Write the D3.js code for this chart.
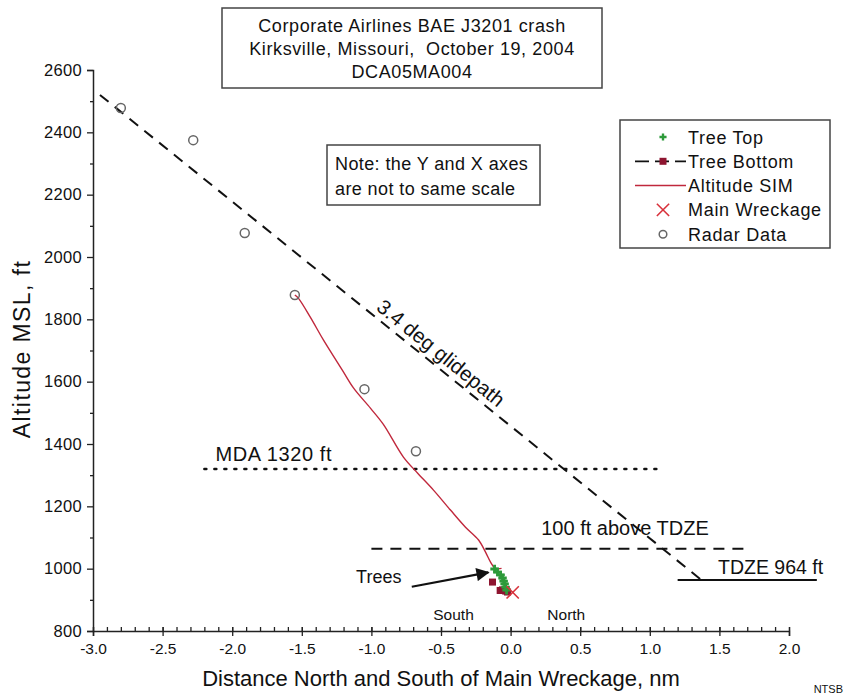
<!DOCTYPE html>
<html>
<head>
<meta charset="utf-8">
<script src="https://cdn.jsdelivr.net/npm/d3@7"></script>
<style>
  body { margin: 0; background: #fff; }
  svg { font-family: "Liberation Sans", Arial, sans-serif; fill: #111; }
  svg text { white-space: pre; }
</style>
</head>
<body>
<div id="chart"></div>
<script>
// ---- data ----
const xTicks = [-3.0, -2.5, -2.0, -1.5, -1.0, -0.5, 0.0, 0.5, 1.0, 1.5, 2.0];
const yTicks = [800, 1000, 1200, 1400, 1600, 1800, 2000, 2200, 2400, 2600];

const radarX = [-2.80, -2.28, -1.91, -1.55, -1.05, -0.68];
const radarY = [2478, 2375, 2077, 1878, 1576, 1377];

const simX = [-1.55, -1.525, -1.439, -1.345, -1.209, -1.129, -1.007, -0.914, -0.770, -0.669, -0.554, -0.432, -0.324, -0.230, -0.180, -0.144, -0.115, -0.090, -0.065];
const simY = [1878, 1868, 1807, 1734, 1637, 1580, 1515, 1463, 1358, 1307, 1252, 1188, 1133, 1092, 1053, 1021, 1003, 1000, 1001];

const treeTopX = [-0.115, -0.094, -0.072, -0.058, -0.050, -0.043, -0.036, -0.029];
const treeTopY = [999, 989, 980, 970, 960, 951, 941, 931];

const treeBotX = [-0.13, -0.075, -0.058, -0.035, -0.022];
const treeBotY = [957, 930, 932, 928, 925];

const wreckX = [0.015];
const wreckY = [924];

const glideX = [-2.95, 1.37];
const glideY = [2520, 964];

const mdaX = [-2.2, 1.05];
const mdaAlt = 1320;
const tdze100X = [-1.0, 1.7];
const tdze100Alt = 1064;
const tdzeX = [1.2, 2.2];
const tdzeAlt = 964;

const legendItems = ["Tree Top", "Tree Bottom", "Altitude SIM", "Main Wreckage", "Radar Data"];
const titleLines = ["Corporate Airlines BAE J3201 crash", "Kirksville, Missouri,  October 19, 2004", "DCA05MA004"];
const noteLines = ["Note: the Y and X axes", "are not to same scale"];

// ---- layout ----
const W = 844, H = 696;
const margin = {top: 70, right: 55, bottom: 65, left: 93};
const width = W - margin.left - margin.right;
const height = H - margin.top - margin.bottom;

const svg = d3.select("#chart").append("svg")
    .attr("width", W)
    .attr("height", H);

const g = svg.append("g")
    .attr("transform", "translate(" + margin.left + "," + margin.top + ")");

const x = d3.scaleLinear().domain([-3.0, 2.0]).range([0, width]);
const y = d3.scaleLinear().domain([800, 2600]).range([height, 0]);

const red = "#c0283c", dark = "#8e1530", green = "#2d9a3a";

// axes
const fmtX = d => d3.format(".1f")(d).replace("−", "-");
const xAxis = d3.axisBottom(x).tickValues(xTicks).tickSize(5).tickFormat(fmtX);
const yAxis = d3.axisLeft(y).tickValues(yTicks).tickSize(6).tickFormat(d3.format("d"));

const xMinor = d3.axisBottom(x).tickValues(d3.range(-30, 21).map(d => d / 10)).tickSize(-4).tickFormat("");
const yMinor = d3.axisLeft(y).tickValues(d3.range(900, 2600, 200)).tickSize(3).tickFormat("");

g.append("g").attr("transform", `translate(0,${height})`).call(xMinor)
    .call(a => a.select(".domain").remove());
g.append("g").call(yMinor).call(a => a.select(".domain").remove());

const gx = g.append("g").attr("transform", `translate(0,${height})`).call(xAxis);
const gy = g.append("g").call(yAxis);

[gx, gy].forEach(a => {
    a.select(".domain").attr("stroke", "#222").attr("stroke-width", 1.5);
    a.selectAll("text").attr("font-family", null).attr("fill", "#111");
});
gx.selectAll(".tick line").attr("y1", -4);
gx.selectAll("text").attr("dy", "0.95em").attr("font-size", 15.5);
gy.selectAll("text").attr("x", -11).attr("font-size", 16.5).attr("letter-spacing", 0.3);
g.selectAll(".tick line").attr("stroke", "#222").attr("stroke-width", 1.3);

// axis titles
svg.append("text")
    .attr("transform", `translate(30,349) rotate(-90)`)
    .attr("text-anchor", "middle")
    .attr("font-size", 23)
    .attr("letter-spacing", 1.4)
    .text("Altitude MSL, ft");

svg.append("text")
    .attr("x", 441)
    .attr("y", 686)
    .attr("text-anchor", "middle")
    .attr("font-size", 22)
    .text("Distance North and South of Main Wreckage, nm");

svg.append("text")
    .attr("x", 843).attr("y", 693)
    .attr("text-anchor", "end")
    .attr("font-size", 11)
    .text("NTSB");

// reference lines
const line = d3.line().x(d => x(d[0])).y(d => y(d[1]));

g.append("path")
    .datum(d3.zip(glideX, glideY))
    .attr("d", line)
    .attr("fill", "none").attr("stroke", "#111").attr("stroke-width", 2)
    .attr("stroke-dasharray", "11,8");

g.append("path")
    .datum(mdaX.map(v => [v, mdaAlt]))
    .attr("d", line)
    .attr("fill", "none").attr("stroke", "#111").attr("stroke-width", 2.5)
    .attr("stroke-dasharray", "2,8").attr("stroke-linecap", "round");

g.append("path")
    .datum(tdze100X.map(v => [v, tdze100Alt]))
    .attr("d", line)
    .attr("fill", "none").attr("stroke", "#111").attr("stroke-width", 2)
    .attr("stroke-dasharray", "11,8");

g.append("path")
    .datum(tdzeX.map(v => [v, tdzeAlt]))
    .attr("d", line)
    .attr("fill", "none").attr("stroke", "#111").attr("stroke-width", 2);

// reference line labels
g.append("text").attr("x", x(-2.12)).attr("y", y(mdaAlt) - 8)
    .attr("font-size", 20).attr("letter-spacing", 0.6).text("MDA 1320 ft");
g.append("text").attr("x", x(0.22)).attr("y", y(tdze100Alt) - 14)
    .attr("font-size", 20).text("100 ft above TDZE");
g.append("text").attr("x", x(1.49)).attr("y", y(tdzeAlt) - 6)
    .attr("font-size", 19.5).text("TDZE 964 ft");

const gAng = Math.atan2(y(glideY[1]) - y(glideY[0]), x(glideX[1]) - x(glideX[0])) * 180 / Math.PI;
const gLx = -0.56;
const gLy = glideY[0] + (gLx - glideX[0]) * (glideY[1] - glideY[0]) / (glideX[1] - glideX[0]);
g.append("text")
    .attr("transform", `translate(${x(gLx)},${y(gLy)}) rotate(${gAng})`)
    .attr("text-anchor", "middle")
    .attr("dy", -6)
    .attr("font-size", 20.5)
    .text("3.4 deg glidepath");

// altitude SIM
g.append("path")
    .datum(d3.zip(simX, simY))
    .attr("d", d3.line().curve(d3.curveCatmullRom).x(d => x(d[0])).y(d => y(d[1])))
    .attr("fill", "none").attr("stroke", red).attr("stroke-width", 1.4);

// radar data
g.selectAll(".radar")
    .data(d3.zip(radarX, radarY))
    .enter().append("circle")
    .attr("class", "radar")
    .attr("cx", d => x(d[0])).attr("cy", d => y(d[1]))
    .attr("r", 4.5)
    .attr("fill", "none").attr("stroke", "#666").attr("stroke-width", 1.5);

// tree bottoms
g.selectAll(".treebot")
    .data(d3.zip(treeBotX, treeBotY))
    .enter().append("rect")
    .attr("class", "treebot")
    .attr("x", d => x(d[0]) - 3.5).attr("y", d => y(d[1]) - 3.5)
    .attr("width", 7).attr("height", 7)
    .attr("fill", dark);

// tree tops
const plus = d3.symbol().type(d3.symbolCross).size(40);
g.selectAll(".treetop")
    .data(d3.zip(treeTopX, treeTopY))
    .enter().append("path")
    .attr("class", "treetop")
    .attr("transform", d => `translate(${x(d[0])},${y(d[1])})`)
    .attr("d", plus)
    .attr("fill", green);

// main wreckage
const cross = d3.symbol().type(d3.symbolTimes).size(100);
g.selectAll(".wreck")
    .data(d3.zip(wreckX, wreckY))
    .enter().append("path")
    .attr("class", "wreck")
    .attr("transform", d => `translate(${x(d[0])},${y(d[1])})`)
    .attr("d", cross)
    .attr("fill", "none").attr("stroke", "#d8323c").attr("stroke-width", 1.6);

// trees annotation
svg.append("defs").append("marker")
    .attr("id", "arrow")
    .attr("viewBox", "0 0 10 10").attr("refX", 9).attr("refY", 5)
    .attr("markerWidth", 7).attr("markerHeight", 6).attr("orient", "auto")
    .append("path").attr("d", "M0,0L10,5L0,10Z").attr("fill", "#111");

g.append("text").attr("x", x(-1.11)).attr("y", y(955))
    .attr("font-size", 18).text("Trees");
g.append("line")
    .attr("x1", x(-0.71)).attr("y1", y(942))
    .attr("x2", x(-0.16)).attr("y2", y(988))
    .attr("stroke", "#111").attr("stroke-width", 2.2)
    .attr("marker-end", "url(#arrow)");

g.append("text").attr("x", x(-0.41)).attr("y", y(835))
    .attr("text-anchor", "middle").attr("font-size", 15.5).text("South");
g.append("text").attr("x", x(0.40)).attr("y", y(835))
    .attr("text-anchor", "middle").attr("font-size", 15.5).text("North");

// title box
const tb = svg.append("g").attr("transform", "translate(222,8)");
tb.append("rect").attr("width", 380).attr("height", 80)
    .attr("fill", "#fff").attr("stroke", "#444").attr("stroke-width", 1.5);
tb.selectAll("text").data(titleLines).enter().append("text")
    .attr("x", 190).attr("y", (d, i) => 24 + i * 23)
    .attr("text-anchor", "middle").attr("font-size", 18).attr("letter-spacing", 0.6)
    .text(d => d);

// note box
const nb = svg.append("g").attr("transform", "translate(327,145)");
nb.append("rect").attr("width", 213).attr("height", 60)
    .attr("fill", "#fff").attr("stroke", "#444").attr("stroke-width", 1.5);
nb.selectAll("text").data(noteLines).enter().append("text")
    .attr("x", 8).attr("y", (d, i) => 25 + i * 25)
    .attr("font-size", 18).attr("letter-spacing", 0.4)
    .text(d => d);

// legend
const lg = svg.append("g").attr("transform", "translate(620,120)");
lg.append("rect").attr("width", 210).attr("height", 128)
    .attr("fill", "#fff").attr("stroke", "#444").attr("stroke-width", 1.5);
const ly = i => 17 + i * 24.3;
lg.selectAll(".lt").data(legendItems).enter().append("text")
    .attr("x", 68).attr("y", (d, i) => ly(i) + 6.5)
    .attr("font-size", 18).attr("letter-spacing", 0.7)
    .text(d => d);
lg.append("path").attr("transform", `translate(43,${ly(0)})`)
    .attr("d", d3.symbol().type(d3.symbolCross).size(28)).attr("fill", green);
lg.append("line").attr("x1", 15).attr("x2", 66).attr("y1", ly(1)).attr("y2", ly(1))
    .attr("stroke", "#111").attr("stroke-width", 1.8).attr("stroke-dasharray", "14,6");
lg.append("rect").attr("x", 39.5).attr("y", ly(1) - 3.5).attr("width", 7).attr("height", 7).attr("fill", dark);
lg.append("line").attr("x1", 15).attr("x2", 66).attr("y1", ly(2)).attr("y2", ly(2))
    .attr("stroke", red).attr("stroke-width", 1.5);
lg.append("path").attr("transform", `translate(43,${ly(3)})`)
    .attr("d", d3.symbol().type(d3.symbolTimes).size(100))
    .attr("fill", "none").attr("stroke", "#d8323c").attr("stroke-width", 1.6);
lg.append("circle").attr("cx", 43).attr("cy", ly(4)).attr("r", 3.8)
    .attr("fill", "none").attr("stroke", "#666").attr("stroke-width", 1.5);
</script>
</body>
</html>
